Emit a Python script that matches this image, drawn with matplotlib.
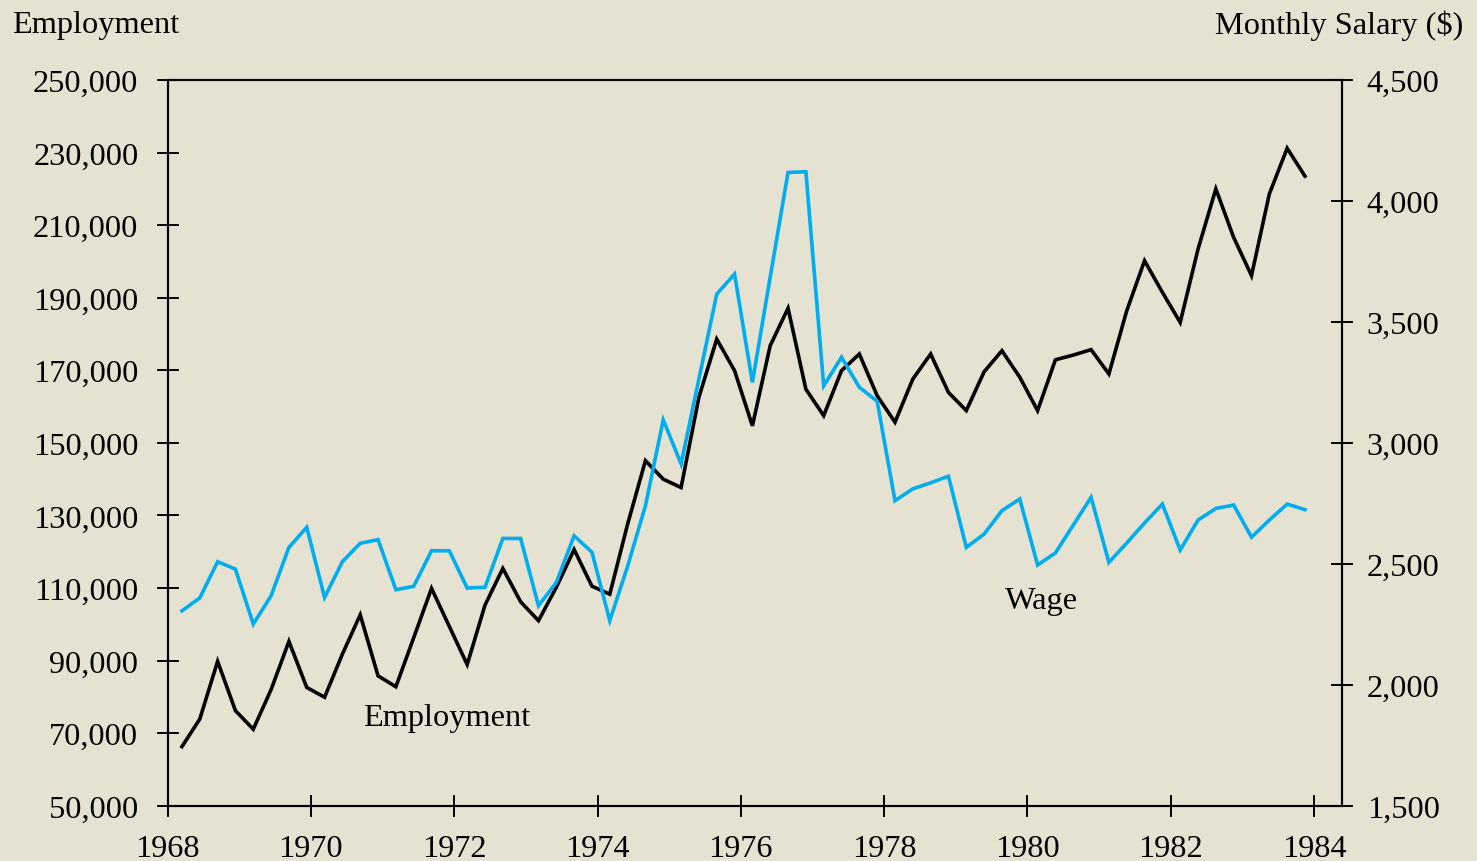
import numpy as np
import matplotlib
matplotlib.use("Agg")
import matplotlib.pyplot as plt
from matplotlib.ticker import FuncFormatter, FixedLocator

# ---- data (quarterly, 1968 Q1 .. 1983 Q4) ----
start_year = 1968.2
quarter_step = 0.2488
employment = [
    66300, 73900, 89800, 76200, 71100, 82000, 95300, 82600,
    79900, 91800, 102600, 85800, 82800, 96300, 109900, 99400,
    88900, 105300, 115400, 106200, 101000, 110200, 120600, 110500,
    108300, 127600, 145100, 140000, 137700, 162600, 178600, 169900,
    154700, 176800, 187100, 164800, 157500, 169900, 174500, 163000,
    155700, 167600, 174500, 163900, 158900, 169600, 175400, 168100,
    158900, 172900, 174200, 175700, 169000, 186400, 200200, 191500,
    183200, 203400, 220000, 206600, 196100, 218600, 231200, 223500,
]
wage = [
    2306, 2359, 2509, 2478, 2251, 2368, 2568, 2651,
    2361, 2509, 2585, 2600, 2393, 2407, 2554, 2554,
    2400, 2403, 2605, 2605, 2327, 2423, 2616, 2548,
    2265, 2490, 2740, 3095, 2913, 3264, 3615, 3698,
    3250, 3686, 4118, 4121, 3236, 3354, 3230, 3172,
    2761, 2810, 2835, 2862, 2568, 2623, 2720, 2768,
    2495, 2545, 2660, 2775, 2506, 2586, 2669, 2747,
    2557, 2681, 2729, 2743, 2610, 2681, 2747, 2724,
]
years = start_year + quarter_step * np.arange(len(employment))

x_ticks = list(range(1968, 1985, 2))
emp_ticks = list(range(50000, 250001, 20000))
wage_ticks = list(range(1500, 4501, 500))

# ---- style ----
BG = "#E5E2D2"
BLUE = "#00AEEF"
FONT = ["Liberation Serif", "DejaVu Serif"]
FS = 23.3
plt.rcParams["font.family"] = FONT

fig = plt.figure(figsize=(14.77, 8.62), dpi=100, facecolor=BG)
ax = fig.add_axes([0.1135, 0.0641, 0.9084 - 0.1135, 0.906 - 0.0641])
ax.set_facecolor(BG)
ax2 = ax.twinx()

ax.plot(years, employment, color="black", lw=2.6, solid_joinstyle="miter", zorder=3)
ax2.plot(years, wage, color=BLUE, lw=2.6, solid_joinstyle="miter", zorder=3)

ax.set_xlim(1968, 1984.387)
ax.set_ylim(50000, 250000)
ax2.set_ylim(1500, 4500)

ax.xaxis.set_major_locator(FixedLocator(x_ticks))
ax.yaxis.set_major_locator(FixedLocator(emp_ticks))
ax2.yaxis.set_major_locator(FixedLocator(wage_ticks))
ax.yaxis.set_major_formatter(FuncFormatter(lambda v, p: f"{int(v):,}"))
ax2.yaxis.set_major_formatter(FuncFormatter(lambda v, p: f"{int(v):,}"))

for a in (ax, ax2):
    for s in a.spines.values():
        s.set_linewidth(1.5)
        s.set_color("black")
ax.tick_params(axis="y", direction="inout", length=16, width=1.4,
               labelsize=FS, colors="black", pad=13)
ax.tick_params(axis="x", direction="inout", length=16, width=1.4,
               labelsize=FS, colors="black", pad=12)
ax2.tick_params(axis="y", direction="inout", length=16, width=1.4,
                labelsize=FS, colors="black", pad=10)
for lab in ax.get_xticklabels() + ax.get_yticklabels() + ax2.get_yticklabels():
    lab.set_family(FONT)

ax.text(1971.9, 74450, "Employment", fontsize=FS, ha="center", va="center", zorder=4)
ax.text(1980.19, 106700, "Wage", fontsize=FS, ha="center", va="center", zorder=4)

fig.text(12 / 1477, 1 - 26 / 862, "Employment", fontsize=FS, ha="left", va="center")
fig.text(1463 / 1477, 1 - 26 / 862, "Monthly Salary ($)", fontsize=FS, ha="right", va="center")

fig.savefig("out.png", dpi=100, facecolor=BG)
